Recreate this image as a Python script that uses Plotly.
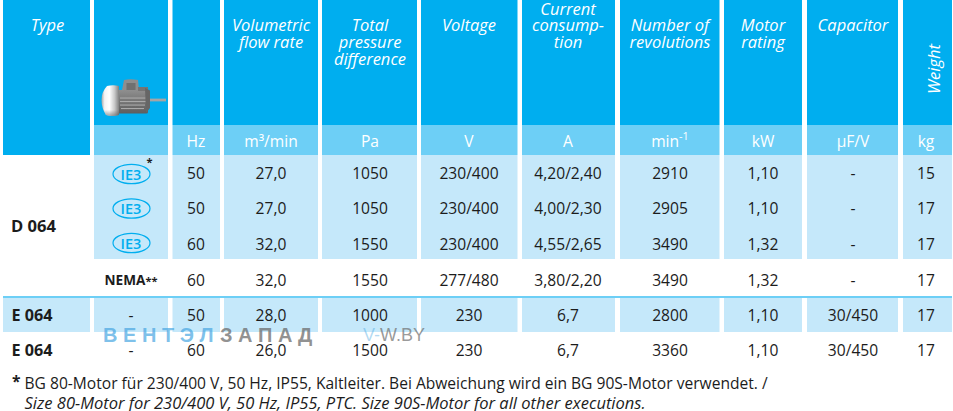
import base64
import plotly.graph_objects as go

# ---------- table content ----------
header_lines = [
    ["Type"], [], [], ["Volumetric", "flow rate"], ["Total", "pressure", "difference"],
    ["Voltage"], ["Current", "consump-", "tion"], ["Number of", "revolutions"],
    ["Motor", "rating"], ["Capacitor"], [],
]
weight_header = "Weight"
units = ["", "", "Hz", "m³/min", "Pa", "V", "A", "min<sup>-1</sup>", "kW", "µF/V", "kg"]
types = ["D 064", "E 064", "E 064"]
motor = ["IE3", "IE3", "IE3", "NEMA", "-", "-"]
hz = ["50", "50", "60", "60", "50", "60"]
flow = ["27,0", "27,0", "32,0", "32,0", "28,0", "26,0"]
pressure = ["1050", "1050", "1550", "1550", "1000", "1500"]
voltage = ["230/400", "230/400", "230/400", "277/480", "230", "230"]
current = ["4,20/2,40", "4,00/2,30", "4,55/2,65", "3,80/2,20", "6,7", "6,7"]
revolutions = ["2910", "2905", "3490", "3490", "2800", "3360"]
rating = ["1,10", "1,10", "1,32", "1,32", "1,10", "1,10"]
capacitor = ["-", "-", "-", "-", "30/450", "30/450"]
weight = ["15", "17", "17", "17", "17", "17"]
foot_de = "BG 80-Motor für 230/400 V, 50 Hz, IP55, Kaltleiter. Bei Abweichung wird ein BG 90S-Motor verwendet. /"
foot_en = "Size 80-Motor for 230/400 V, 50 Hz, IP55, PTC. Size 90S-Motor for all other executions."

# ---------- layout geometry (page pixels) ----------
col_edges = [(3, 90), (94, 168), (172.5, 220), (224, 318), (322, 417), (421, 517.5),
             (522, 615), (620, 719.5), (724, 802), (807, 898), (903, 952)]
col_mid = [47.5, 131, 196, 271, 370, 469, 568, 670, 763, 853, 926]
row_y = [173.3, 208.5, 243.7, 280, 315, 350]
badge_y = [174, 208.5, 243]
line_y = {1: [25], 2: [25, 42], 3: [25, 42, 59]}
DY = 2  # Open Sans sits slightly high when centred

HEAD = "#00aeef"
SUB = "#6dcff6"
LIGHT = "#c5e8fa"
INK = "#1c1c1c"
FONT = "Open Sans"

shapes = []


def rect(x0, x1, y0, y1, color, layer="below"):
    shapes.append(dict(type="rect", xref="x", yref="y", x0=x0, x1=x1, y0=y0, y1=y1,
                       fillcolor=color, line_width=0, layer=layer))


for i, (a, b) in enumerate(col_edges):
    rect(a, b, 0, 125, HEAD)
    if i == 0:
        rect(a, b, 125, 155, HEAD)
        rect(a, b, 298, 332, LIGHT)
    else:
        rect(a, b, 125, 155, SUB)
        rect(a, b, 155, 259, LIGHT)
        rect(a, b, 298, 332, LIGHT)
rect(3, 952, 296, 298, SUB)

for y in badge_y:
    shapes.append(dict(type="circle", xref="x", yref="y", x0=113, x1=150, y0=y - 9.7, y1=y + 9.7,
                       line=dict(color=HEAD, width=1.2), fillcolor="rgba(0,0,0,0)", layer="above"))

# motor illustration as a small vector picture (viewBox in page pixels)
motor_svg = """<svg xmlns='http://www.w3.org/2000/svg' width='272' height='176' viewBox='100 76 68 44'>
<defs>
<linearGradient id='f' x1='0' x2='1' y1='0' y2='0'>
<stop offset='0' stop-color='#a8a8a8'/><stop offset='.18' stop-color='#f4f4f4'/>
<stop offset='.45' stop-color='#ffffff'/><stop offset='.75' stop-color='#c8c8c8'/>
<stop offset='1' stop-color='#808080'/></linearGradient>
<linearGradient id='b' x1='0' x2='0' y1='0' y2='1'>
<stop offset='0' stop-color='#8f8f8f'/><stop offset='.5' stop-color='#747474'/>
<stop offset='1' stop-color='#5e5e5e'/></linearGradient>
<linearGradient id='v' x1='0' x2='0' y1='0' y2='1'>
<stop offset='0' stop-color='#ffffff' stop-opacity='.0'/><stop offset='.8' stop-color='#555' stop-opacity='0'/>
<stop offset='1' stop-color='#555' stop-opacity='.55'/></linearGradient>
<filter id='s'><feGaussianBlur stdDeviation='.4'/></filter>
</defs>
<g filter='url(#s)'>
<rect x='149' y='98.6' width='17' height='2.8' fill='#a5a5a5'/>
<rect x='116' y='90' width='32' height='23.5' rx='1.5' fill='url(#b)'/>
<path d='M122 90 L124 80 Q130 78.5 138 80 L139 90 Z' fill='#8e8e8e'/>
<rect x='126.5' y='83' width='9' height='7' fill='#6f6f6f'/>
<rect x='138' y='87' width='10' height='4' fill='#747474'/>
<g fill='#a9a9a9'>
<rect x='120' y='97.5' width='26' height='1.1'/><rect x='120' y='101' width='26' height='1.1'/>
<rect x='120' y='104.5' width='25' height='1.1'/><rect x='121' y='108' width='23' height='1.1'/>
</g>
<path d='M107 86 Q113 84.5 119 86 L119 115 Q112 117 106 115 Q101.5 108 101.5 100 Q101.5 92 107 86 Z' fill='url(#f)'/>
<path d='M107 86 Q113 84.5 119 86 L119 115 Q112 117 106 115 Q101.5 108 101.5 100 Q101.5 92 107 86 Z' fill='url(#v)'/>
<path d='M145 88 L150 90.5 L150 108 L146 113 Z' fill='#666666'/>
</g></svg>"""
motor_uri = "data:image/svg+xml;base64," + base64.b64encode(motor_svg.encode()).decode()

fig = go.Figure()


def text_trace(xs, ys, texts, color=INK, size=15.6, pos="middle center", family=FONT, name="", weight=None):
    font = dict(color=color, size=size, family=family)
    if weight:
        font["weight"] = weight
    fig.add_trace(go.Scatter(x=xs, y=[y + DY for y in ys], text=texts, mode="text", textposition=pos,
                             textfont=font, hoverinfo="skip", showlegend=False, cliponaxis=False, name=name))


# headers
hx, hy, ht = [], [], []
for c, lines in enumerate(header_lines):
    ys = [9, 25, 42] if lines and lines[0] == "Current" else line_y.get(len(lines), [])
    for l, y in zip(lines, ys):
        hx.append(col_mid[c]); hy.append(y); ht.append(f"<i>{l}</i>")
text_trace(hx, hy, ht, color="white", size=16.5, name="headers")
text_trace(col_mid[2:], [141] * 9, units[2:], color="white", size=15.6, name="units")

# numeric columns
for c, values in zip(range(2, 11), [hz, flow, pressure, voltage, current, revolutions, rating, capacitor, weight]):
    text_trace([col_mid[c]] * 6, row_y, values, name="col")

# motor column
text_trace([131] * 3, badge_y, motor[:3], color=HEAD, size=14.5, weight=600, name="ie3")
text_trace([131], [280], ["<b>NEMA<span style='font-size:11px'>**</span></b>"], size=13.6, name="nema")
text_trace([131, 131], row_y[4:], motor[4:], name="dash")
text_trace([149.5], [161], ["<b>*</b>"], size=11, name="star")

# type column
text_trace([11], [226], [f"<b>{types[0]}</b>"], pos="middle right", size=16.6, name="type-d")
text_trace([11.5, 11.5], [315, 350], [f"<b>{t}</b>" for t in types[1:]], pos="middle right", size=16.2, name="type-e")

# footnotes
text_trace([12], [381.5], ["<b>*</b>"], size=15.6, pos="middle right", name="fstar")
text_trace([24.5], [383], [foot_de], size=15.6, pos="middle right", name="foot-de")
text_trace([24.5], [403], [f"<i>{foot_en}</i>"], size=16.5, pos="middle right", name="foot-en")

annotations = [
    dict(x=933, y=69, text=f"<i>{weight_header}</i>", textangle=-90, showarrow=False,
         font=dict(color="white", size=16.5, family=FONT), xref="x", yref="y"),
    dict(x=101, y=335, xanchor="left", text="<b>В Е Н Т Э Л</b>", showarrow=False,
         font=dict(color="rgba(70,165,225,0.7)", size=20, family="Liberation Sans"), xref="x", yref="y"),
    dict(x=218, y=335, xanchor="left", text="<b>З А П А Д</b>", showarrow=False,
         font=dict(color="rgba(110,110,110,0.75)", size=20, family="Liberation Sans"), xref="x", yref="y"),
    dict(x=361, y=335, xanchor="left",
         text="<span style='color:rgba(70,165,225,0.6)'>V-</span>W.BY", showarrow=False,
         font=dict(color="rgba(110,110,110,0.7)", size=18, family="Liberation Sans"), xref="x", yref="y"),
]

fig.update_layout(
    width=953, height=411, margin=dict(l=0, r=0, t=0, b=0, pad=0),
    paper_bgcolor="white", plot_bgcolor="white", showlegend=False,
    shapes=shapes, annotations=annotations,
    images=[dict(source=motor_uri, xref="x", yref="y", x=100, y=76, sizex=68, sizey=44,
                 sizing="stretch", xanchor="left", yanchor="top", layer="above")],
    xaxis=dict(range=[0, 953], visible=False, fixedrange=True),
    yaxis=dict(range=[411, 0], visible=False, fixedrange=True),
)
fig.write_html("out.html", config={"displayModeBar": False},
               post_script="document.body.style.margin='0';document.body.style.overflow='hidden';")
